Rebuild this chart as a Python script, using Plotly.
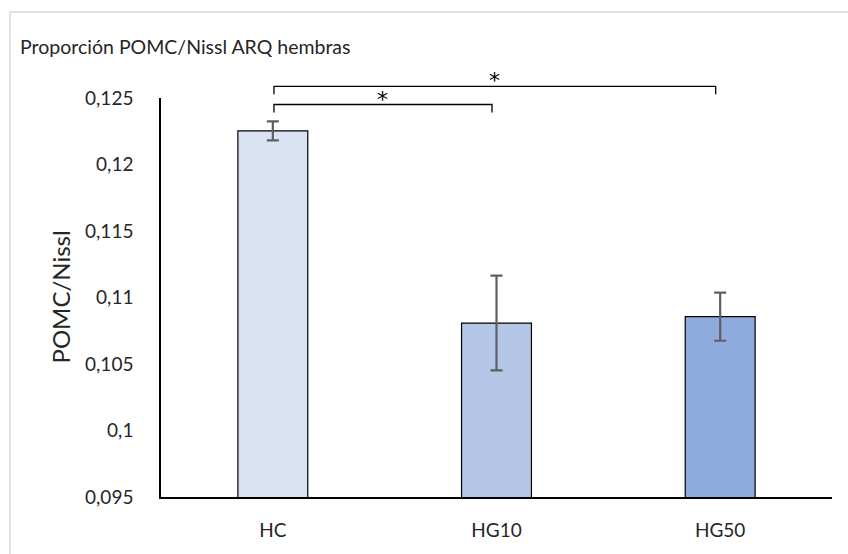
import plotly.graph_objects as go

# Data
groups = ["HC", "HG10", "HG50"]
ratio_mean = [0.12253, 0.10808, 0.10856]
ratio_err = [0.00071, 0.00356, 0.00181]
bar_colors = ["#DAE3F3", "#B4C7E7", "#8FAADC"]
y_ticks = [0.095, 0.1, 0.105, 0.11, 0.115, 0.12, 0.125]
y_tick_labels = ["0,095", "0,1", "0,105", "0,11", "0,115", "0,12", "0,125"]

# significance comparisons: (group a, group b, bracket height, label)
comparisons = [(0, 1, 0.12451, "*"), (0, 2, 0.12588, "*")]

FONT = "Lato"
W, H = 848, 554
ML, MR, MT, MB = 161, 16, 98, 57
X_RANGE = [-0.5, 2.5]
Y_RANGE = [0.095, 0.125]

def xp(v):
    return (v - X_RANGE[0]) / (X_RANGE[1] - X_RANGE[0])

def yp(v):
    return (v - Y_RANGE[0]) / (Y_RANGE[1] - Y_RANGE[0])

plot_w = W - ML - MR
plot_h = H - MT - MB

fig = go.Figure()
fig.add_trace(go.Bar(
    x=groups,
    y=ratio_mean,
    marker=dict(color=bar_colors, line=dict(color="#000000", width=1.2)),
    error_y=dict(type="data", array=ratio_err, visible=True,
                 color="#5f5f5f", thickness=2.2, width=6),
    width=0.3125,
))

shapes = []
annotations = []
tick_drop = 8 / plot_h * (Y_RANGE[1] - Y_RANGE[0])
for a, b, h, label in comparisons:
    xa, xb = a + 0.005, b - 0.02
    shapes.append(dict(
        type="path", xref="paper", yref="paper",
        path=f"M {xp(xa)} {yp(h - tick_drop)} L {xp(xa)} {yp(h)} "
             f"L {xp(xb)} {yp(h)} L {xp(xb)} {yp(h - tick_drop)}",
        line=dict(color="#000000", width=1.3),
    ))
    annotations.append(dict(
        x=(xa + xb) / 2, y=yp(h), xref="x", yref="paper",
        text=label, showarrow=False, yanchor="bottom", yshift=-9,
        font=dict(family="DejaVu Sans", size=22, color="#000000"),
    ))

# y-axis title
annotations.append(dict(
    x=(60 - ML) / plot_w, y=0.5, xref="paper", yref="paper",
    text="POMC/Nissl", textangle=-90, showarrow=False,
    xanchor="center", yanchor="middle",
    font=dict(family=FONT, size=24, color="#262626"),
))

# light frame around the chart
shapes.append(dict(
    type="rect", xref="paper", yref="paper",
    x0=(10 - ML) / plot_w, x1=(W + 20 - ML) / plot_w,
    y0=(H - MB - (H + 20)) / plot_h, y1=(H - MB - 12) / plot_h,
    line=dict(color="#d9d9d9", width=1.5), fillcolor="rgba(0,0,0,0)",
    layer="below",
))

fig.update_layout(
    width=W, height=H,
    margin=dict(l=ML, r=MR, t=MT, b=MB),
    paper_bgcolor="white", plot_bgcolor="white",
    showlegend=False,
    font=dict(family=FONT, color="#262626"),
    title=dict(text="Proporción POMC/Nissl ARQ hembras",
               x=20 / W, xref="container", xanchor="left",
               y=1 - 47 / H, yref="container", yanchor="middle",
               font=dict(family=FONT, size=19.5, color="#262626")),
    shapes=shapes,
    annotations=annotations,
    xaxis=dict(range=X_RANGE, showline=True, linecolor="#000000", linewidth=2,
               ticks="", showgrid=False, ticklabelstandoff=15,
               tickfont=dict(family=FONT, size=19, color="#262626")),
    yaxis=dict(range=Y_RANGE, showline=True, linecolor="#000000", linewidth=1.5,
               tickvals=y_ticks, ticktext=y_tick_labels, ticks="",
               showgrid=False, zeroline=False, ticklabelstandoff=22,
               tickfont=dict(family=FONT, size=19, color="#262626")),
)

fig.write_html("out.html")
